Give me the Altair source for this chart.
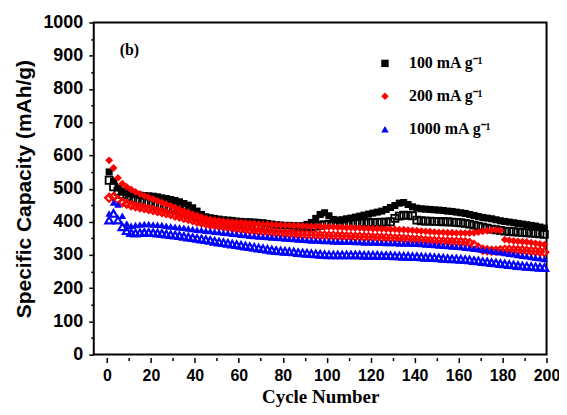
import altair as alt
import pandas as pd

# ---------------- data ----------------
cycles = list(range(1, 200, 2))
series_names = ["100 mA g\u207b\u00b9", "200 mA g\u207b\u00b9", "1000 mA g\u207b\u00b9"]
series_colors = ["#000000", "#ff0000", "#0000ff"]
series_shapes = ["square", "diamond", "triangle-up"]

black_upper = [550, 522, 502, 492, 487, 484, 482, 480, 479, 478,
               477, 475, 472, 470, 467, 464, 460, 455, 450, 442,
               432, 422, 415, 412, 410, 408, 406, 405, 404, 402,
               401, 400, 400, 399, 398, 397, 395, 393, 391, 390,
               389, 389, 388, 388, 388, 392, 398, 410, 422, 427,
               418, 407, 405, 406, 409, 411, 414, 417, 420, 423,
               426, 429, 432, 437, 443, 449, 456, 458, 452, 445,
               441, 439, 438, 437, 436, 435, 434, 432, 431, 429,
               427, 425, 422, 419, 416, 413, 411, 409, 406, 403,
               401, 399, 397, 395, 393, 391, 389, 387, 384, 381]
black_lower = [525, 505, 492, 482, 475, 470, 466, 462, 459, 456,
               453, 450, 447, 444, 441, 437, 433, 428, 423, 418,
               413, 408, 404, 400, 398, 396, 394, 392, 390, 389,
               388, 387, 386, 385, 385, 384, 384, 383, 383, 382,
               382, 382, 382, 382, 383, 384, 385, 387, 389, 391,
               392, 393, 394, 394, 395, 395, 396, 396, 397, 397,
               398, 398, 399, 399, 400, 410, 417, 420, 419, 418,
               405, 403, 402, 402, 401, 401, 400, 400, 399, 398,
               397, 395, 393, 390, 387, 384, 381, 378, 376, 374,
               372, 371, 370, 369, 368, 367, 366, 365, 364, 362]
red_upper = [585, 562, 532, 515, 505, 497, 490, 484, 478, 473,
             468, 463, 458, 453, 448, 443, 437, 432, 427, 422,
             418, 414, 410, 407, 405, 403, 401, 400, 399, 398,
             397, 396, 395, 394, 393, 392, 392, 391, 390, 390,
             389, 389, 388, 388, 387, 387, 386, 386, 385, 385,
             384, 384, 383, 383, 382, 382, 381, 381, 380, 380,
             379, 379, 378, 378, 377, 377, 376, 376, 375, 374,
             373, 372, 371, 370, 369, 368, 368, 367, 367, 366,
             366, 366, 366, 367, 369, 371, 373, 375, 375, 374,
             346, 344, 342, 341, 340, 339, 337, 335, 333, 331]
red_lower = [472, 475, 466, 459, 454, 450, 447, 444, 441, 438,
             435, 432, 429, 426, 423, 419, 416, 412, 409, 405,
             401, 398, 395, 392, 390, 388, 386, 384, 382, 380,
             378, 377, 375, 374, 372, 371, 370, 368, 367, 366,
             365, 364, 363, 362, 361, 361, 360, 360, 359, 359,
             358, 358, 357, 357, 356, 356, 355, 355, 354, 354,
             353, 353, 352, 352, 351, 350, 350, 349, 348, 347,
             346, 345, 344, 343, 342, 342, 341, 341, 340, 340,
             339, 338, 336, 330, 322, 316, 314, 313, 313, 314,
             316, 316, 315, 314, 314, 313, 312, 311, 310, 308]
blue_upper = [425, 458, 452, 418, 395, 388, 390, 392, 393, 393,
              392, 391, 390, 388, 386, 385, 383, 382, 380, 378,
              376, 375, 373, 372, 370, 369, 367, 366, 364, 363,
              361, 360, 358, 357, 356, 355, 354, 353, 352, 351,
              350, 349, 348, 347, 346, 345, 344, 344, 343, 342,
              342, 341, 341, 340, 340, 340, 339, 339, 338, 338,
              338, 337, 337, 336, 336, 336, 335, 335, 335, 334,
              334, 333, 332, 331, 330, 329, 328, 327, 326, 325,
              324, 322, 321, 319, 318, 316, 314, 312, 310, 308,
              306, 304, 302, 300, 298, 296, 294, 292, 290, 288]
blue_lower = [405, 425, 405, 385, 373, 367, 366, 367, 368, 368,
              367, 366, 365, 363, 361, 360, 358, 356, 354, 352,
              350, 348, 346, 344, 341, 339, 337, 335, 333, 331,
              329, 327, 325, 323, 321, 319, 317, 315, 313, 312,
              311, 310, 309, 307, 306, 305, 304, 303, 302, 301,
              300, 300, 300, 300, 300, 300, 300, 300, 299, 299,
              299, 299, 298, 298, 298, 297, 297, 296, 296, 295,
              295, 294, 293, 293, 292, 291, 290, 289, 288, 288,
              287, 286, 285, 283, 282, 280, 279, 277, 276, 274,
              273, 271, 270, 268, 267, 266, 265, 264, 263, 262]

x_ticks = list(range(0, 201, 10))
y_ticks = list(range(0, 1001, 50))
panel_text = ["(b)"]
panel_x = [5.8]
panel_y = [916]

# ---------------- chart ----------------
def frame(vals, name):
    return pd.DataFrame({"cycle": cycles, "capacity": vals, "series": name})

x_axis = alt.Axis(
    values=x_ticks, format="d",
    labelExpr="datum.value % 20 == 0 ? datum.label : ''",
    tickSize={"condition": {"test": "datum.value % 20 != 0", "value": 3}, "value": 5},
    domain=False, offset=3, grid=False, tickColor="black", tickWidth=1.5,
    labelFont="Liberation Sans", labelFontWeight="bold", labelFontSize=16,
    labelColor="black", labelPadding=5, labelFlush=False,
    title="Cycle Number", titleFont="Liberation Serif", titleFontSize=19,
    titleFontWeight="bold", titleColor="black", titlePadding=4,
)
y_axis = alt.Axis(
    values=y_ticks, format="d",
    labelExpr="datum.value % 100 == 0 ? datum.label : ''",
    tickSize={"condition": {"test": "datum.value % 100 != 0", "value": 3}, "value": 5},
    domain=False, grid=False, tickColor="black", tickWidth=1.5,
    labelFont="Liberation Sans", labelFontWeight="bold", labelFontSize=18,
    labelColor="black", labelPadding=6, labelFlush=False,
    title="Specific Capacity (mAh/g)", titleFont="Liberation Sans", titleFontSize=21,
    titleFontWeight="bold", titleColor="black", titlePadding=8,
)

X = alt.X("cycle:Q", scale=alt.Scale(domain=[-6, 200], nice=False, zero=False), axis=x_axis)
Y = alt.Y("capacity:Q", scale=alt.Scale(domain=[0, 1000], nice=False), axis=y_axis)

legend = alt.Legend(
    title=None, orient="none", legendX=284, legendY=33, padding=0,
    labelFont="Liberation Serif", labelFontWeight="bold", labelFontSize=16,
    labelColor="black", symbolSize=55, rowPadding=17, labelOffset=16,
    symbolStrokeWidth=0, labelLimit=200,
)
C = alt.Color("series:N", scale=alt.Scale(domain=series_names, range=series_colors), legend=legend)
S = alt.Shape("series:N", scale=alt.Scale(domain=series_names, range=series_shapes), legend=legend)

layers = []
for name, color, shape, up, low, sz, sw in [
    (series_names[0], series_colors[0], series_shapes[0], black_upper, black_lower, 50, 1.8),
    (series_names[1], series_colors[1], series_shapes[1], red_upper, red_lower, 62, 2.2),
    (series_names[2], series_colors[2], series_shapes[2], blue_upper, blue_lower, 58, 2.2),
]:
    hollow = alt.Chart(frame(low, name)).mark_point(
        filled=False, shape=shape, color=color, size=sz, strokeWidth=sw, opacity=1
    ).encode(x=X, y=Y)
    filled = alt.Chart(frame(up, name)).mark_point(
        filled=True, size=sz, opacity=1
    ).encode(x=X, y=Y, color=C, shape=S)
    layers += [hollow, filled]

label = alt.Chart(pd.DataFrame({"cycle": panel_x, "capacity": panel_y, "txt": panel_text})).mark_text(
    align="left", baseline="middle", font="Liberation Serif", fontWeight="bold",
    fontSize=16, color="black"
).encode(x=X, y=Y, text="txt:N")
layers.append(label)

chart = alt.layer(*layers).properties(
    width=454, height=333,
    padding={"left": 5, "top": 5, "right": -1.5, "bottom": 0},
    background="white",
).configure_view(stroke="black", strokeWidth=2)

chart.save("out.html", embed_options={"renderer": "svg", "actions": False})
